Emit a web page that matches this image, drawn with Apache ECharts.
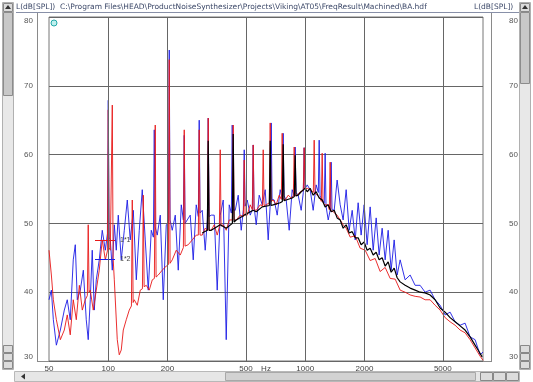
<!DOCTYPE html>
<html>
<head>
<meta charset="utf-8">
<title>L(dB[SPL])</title>
<script src="https://cdn.jsdelivr.net/npm/echarts@6/dist/echarts.min.js"></script>
<style>
  html, body { margin: 0; padding: 0; background: #fff; }
  #chart { width: 533px; height: 382px; }
</style>
</head>
<body>
<div id="chart"></div>
<script>
// header / axis texts
var headerLeft = 'L(dB[SPL])  C:\\Program Files\\HEAD\\ProductNoiseSynthesizer\\Projects\\Viking\\AT05\\FreqResult\\Machined\\BA.hdf';
var headerRight = 'L(dB[SPL])';
var freqTicks = [50, 100, 200, 500, 1000, 2000, 5000];
var freqGrid = [100, 200, 500, 1000, 2000, 5000];
var legendNames = ['1*1', '1*2'];

// blue trace (1*2)
var blueFreq = [50, 51.4, 52.6, 54.5, 57.1, 59.8, 61.9, 64.1, 66.4, 68.0,
  69.6, 72.1, 74.7, 77.3, 79.1, 81.0, 82.9, 84.9, 86.9, 90.0,
  93.2, 96.6, 99.0, 100, 101.0, 102.4, 104.8, 107.3, 109.8, 112.4,
  116.4, 120.6, 124.9, 129.3, 134.0, 138.8, 143.7, 148.8, 154.1, 159.6,
  165.3, 169.5, 171.2, 172.9, 177.3, 183.7, 190.2, 197.0, 202.0, 204.0,
  206.0, 211.3, 218.9, 226.7, 234.8, 240.7, 243.1, 245.5, 251.8, 260.8,
  270.1, 279.7, 286.7, 289.6, 292.5, 300.0, 310.7, 318.6, 321.8, 325.0,
  333.3, 345.2, 357.5, 370.3, 383.6, 397.2, 411.4, 421.8, 426.1, 430.4,
  441.3, 457.0, 473.4, 485.4, 490.3, 495.2, 507.8, 526.0, 539.1, 544.5,
  549.9, 564.0, 584.2, 605.0, 626.6, 649.0, 665.5, 672.2, 678.9, 696.1,
  721.0, 746.6, 765.6, 773.3, 781.0, 800.9, 829.6, 859.0, 880.7, 889.6,
  898.5, 921.5, 954.3, 978.4, 988.3, 998.2, 1024, 1060, 1098, 1137,
  1166, 1178, 1190, 1220, 1250, 1263, 1276, 1309, 1341, 1355,
  1369, 1404, 1453, 1506, 1559, 1615, 1673, 1733, 1795, 1858,
  1924, 1993, 2064, 2138, 2215, 2294, 2375, 2460, 2548, 2639,
  2733, 2831, 2932, 3036, 3218, 3412, 3617, 3835, 4065, 4310,
  4570, 4845, 5137, 5445, 5773, 6120, 6489, 6880, 7293, 7734, 8000];
var blueDb = [38.9, 40.3, 36.0, 32.3, 34.5, 37.4, 38.9, 36.0, 44.7, 46.9,
  38.9, 40.3, 43.2, 36.0, 33.1, 38.9, 46.1, 37.4, 41.8, 44.7,
  49.0, 46.1, 48.5, 67.9, 48.0, 47.6, 43.2, 49.8, 46.1, 51.2,
  44.7, 49.0, 53.4, 47.6, 51.9, 41.8, 49.0, 54.9, 47.6, 40.3,
  49.0, 48.0, 63.6, 49.5, 48.3, 51.2, 38.9, 49.8, 50.0, 75.2,
  50.5, 49.0, 51.2, 43.2, 52.7, 50.5, 62.8, 50.0, 50.5, 51.2,
  44.7, 52.7, 51.0, 65.0, 51.5, 51.9, 46.1, 50.5, 65.3, 51.0,
  51.2, 51.2, 40.3, 51.2, 53.4, 33.1, 52.7, 51.5, 64.3, 52.0,
  51.9, 54.1, 49.0, 52.0, 60.7, 52.5, 53.4, 51.2, 52.0, 61.4,
  52.5, 49.8, 54.1, 52.7, 54.9, 47.6, 53.0, 64.6, 53.5, 53.4,
  51.2, 54.9, 53.5, 63.1, 54.0, 53.4, 49.0, 54.9, 54.0, 61.1,
  54.5, 54.1, 51.9, 54.5, 61.0, 55.0, 55.6, 54.9, 51.9, 55.6,
  54.5, 62.1, 54.0, 53.4, 53.0, 60.2, 52.5, 50.5, 52.0, 58.9,
  52.0, 51.9, 56.3, 52.7, 50.5, 54.9, 49.0, 51.9, 47.6, 53.0,
  48.3, 52.7, 46.9, 52.4, 46.1, 50.8, 45.4, 49.3, 44.7, 49.0,
  43.2, 47.6, 42.5, 44.7, 41.8, 42.5, 41.0, 41.0, 40.0, 40.3,
  38.9, 38.1, 36.7, 37.1, 35.7, 35.2, 35.5, 33.5, 33.1, 30.9, 31.3];

// red trace (1*1)
var redFreq = [50, 51.4, 52.6, 54.5, 57.1, 59.8, 61.9, 64.1, 66.4, 68.8,
  71.3, 73.8, 76.4, 78.3, 79.1, 79.9, 81.0, 83.9, 86.9, 90.0,
  93.2, 96.6, 99.0, 100, 101.0, 102.4, 103.8, 104.8, 105.8, 107.3,
  111.1, 113.7, 116.4, 119.2, 123.4, 127.8, 131.1, 132.4, 133.7, 135.5,
  140.4, 145.4, 149.1, 150.6, 152.1, 155.9, 161.5, 167.3, 171.5, 173.2,
  174.9, 179.4, 188.0, 197.0, 202.0, 204.0, 206.0, 211.3, 221.4, 232.0,
  240.7, 243.1, 245.5, 254.7, 267.0, 279.7, 286.7, 289.6, 292.5, 300.0,
  310.7, 318.6, 321.8, 325.0, 333.3, 345.2, 357.5, 366.6, 370.3, 374.0,
  383.6, 397.2, 411.4, 426.8, 431.1, 435.4, 446.4, 468.0, 485.4, 490.3,
  495.2, 507.8, 526.0, 539.1, 544.5, 549.9, 564.0, 591.0, 606.1, 612.2,
  618.3, 634.0, 657.7, 664.3, 670.9, 688.0, 712.6, 738.0, 756.6, 764.2,
  771.8, 791.5, 819.9, 849.0, 870.6, 879.4, 888.2, 910.7, 943.1, 978.4,
  988.3, 998.2, 1024, 1060, 1100, 1111, 1122, 1150, 1191, 1208,
  1220, 1232, 1263, 1309, 1326, 1339, 1352, 1387, 1453, 1506,
  1559, 1615, 1693, 1795, 1902, 2017, 2138, 2267, 2403, 2548,
  2702, 2864, 3036, 3218, 3412, 3617, 3835, 4065, 4310, 4570,
  4845, 5137, 5445, 5773, 6120, 6489, 6880, 7293, 7734, 8000];
var redDb = [46.1, 42.5, 38.9, 36.0, 33.1, 34.5, 36.7, 33.8, 38.9, 36.0,
  41.0, 37.4, 38.9, 39.5, 49.8, 40.0, 40.3, 37.4, 40.3, 43.2,
  47.6, 44.7, 46.0, 66.5, 46.5, 46.1, 46.0, 67.2, 45.0, 41.8,
  33.1, 30.9, 31.6, 34.5, 36.0, 37.4, 38.0, 53.4, 38.5, 38.9,
  38.1, 40.3, 40.5, 54.1, 40.8, 41.0, 40.3, 41.8, 42.0, 64.3,
  42.2, 42.5, 43.2, 43.8, 44.0, 73.8, 44.2, 44.7, 46.1, 45.4,
  46.5, 63.6, 46.7, 46.9, 47.6, 48.3, 48.3, 63.6, 48.3, 48.3,
  49.3, 49.0, 65.3, 49.0, 49.0, 49.8, 48.3, 49.5, 60.7, 49.6,
  49.8, 49.0, 50.5, 50.5, 64.3, 50.5, 50.5, 51.2, 51.0, 59.2,
  51.2, 51.2, 52.7, 52.0, 61.4, 52.0, 51.9, 52.7, 52.5, 60.7,
  52.6, 52.7, 53.0, 64.6, 53.2, 53.4, 52.7, 54.1, 53.5, 63.1,
  53.6, 53.4, 54.1, 53.7, 54.0, 61.1, 54.0, 54.1, 54.6, 54.8,
  61.0, 55.0, 55.1, 54.9, 54.5, 62.1, 54.4, 54.1, 53.7, 53.2,
  60.2, 53.0, 52.7, 52.7, 52.0, 58.9, 51.8, 51.7, 51.2, 50.5,
  49.8, 49.3, 48.0, 48.2, 46.4, 46.1, 44.6, 44.9, 43.0, 43.6,
  42.0, 41.9, 40.3, 40.0, 39.6, 39.4, 39.3, 38.9, 38.9, 38.1,
  37.4, 36.3, 35.7, 35.2, 34.5, 34.1, 33.1, 31.9, 30.7, 30.1];

// black trace
var blackFreq = [300.0, 318.6, 321.8, 325.0, 333.3, 370.3, 397.2, 426.8, 431.1, 435.4,
  446.4, 490.3, 544.5, 564.0, 605.0, 657.7, 664.3, 670.9, 688.0, 746.6,
  765.6, 773.3, 781.0, 800.9, 859.0, 880.7, 889.6, 898.5, 921.5, 954.3,
  1000, 1024, 1060, 1098, 1137, 1178, 1220, 1263, 1309, 1355,
  1404, 1453, 1506, 1559, 1615, 1673, 1733, 1795, 1858, 1924,
  1993, 2064, 2138, 2215, 2294, 2375, 2460, 2548, 2639, 2733,
  2831, 2932, 3036, 3218, 3412, 3617, 3835, 4065, 4310, 4570,
  4845, 5137, 5445, 5773, 6120, 6489, 6880, 7293, 7555, 7917];
var blackDb = [48.6, 49.0, 62.0, 49.0, 49.0, 49.8, 49.3, 50.0, 63.0, 50.2,
  50.5, 51.2, 51.9, 51.7, 52.4, 52.6, 62.0, 52.6, 52.7, 53.0,
  53.2, 61.5, 53.3, 53.4, 53.7, 53.9, 59.9, 54.0, 54.1, 54.6,
  55.1, 54.6, 55.1, 54.1, 54.6, 53.7, 53.4, 52.4, 52.7, 51.7,
  51.9, 50.8, 50.5, 49.3, 49.8, 48.6, 48.8, 47.9, 47.9, 46.9,
  47.3, 46.1, 46.4, 45.4, 45.8, 44.7, 45.0, 43.8, 44.4, 42.9,
  43.5, 42.1, 41.5, 41.0, 40.6, 40.3, 40.0, 39.9, 39.6, 38.9,
  37.7, 37.1, 36.3, 35.7, 35.1, 34.5, 33.5, 32.3, 31.6, 30.6];

function pairs(f, d) {
  var out = [];
  for (var i = 0; i < f.length; i++) out.push([f[i], d[i]]);
  return out;
}

var chart = echarts.init(document.getElementById('chart'));

var chrome = [
  // left scrollbar
  { type: 'rect', shape: { x: 2.5, y: 2.5, width: 11, height: 367 }, style: { fill: '#e8e8e8', stroke: '#b0b0b0' } },
  { type: 'rect', shape: { x: 3.5, y: 12.5, width: 9, height: 83 }, style: { fill: '#c8c8c8', stroke: '#8c8c8c' } },
  { type: 'rect', shape: { x: 3.5, y: 3.5, width: 9, height: 8 }, style: { fill: '#dcdcdc', stroke: '#888' } },
  { type: 'polygon', shape: { points: [[5, 9], [11, 9], [8, 5]] }, style: { fill: '#333' } },
  { type: 'rect', shape: { x: 3.5, y: 345.5, width: 9, height: 7 }, style: { fill: '#dcdcdc', stroke: '#888' } },
  { type: 'rect', shape: { x: 3.5, y: 353.5, width: 9, height: 7 }, style: { fill: '#dcdcdc', stroke: '#888' } },
  { type: 'rect', shape: { x: 3.5, y: 361.5, width: 9, height: 7 }, style: { fill: '#dcdcdc', stroke: '#888' } },
  // right scrollbar
  { type: 'rect', shape: { x: 519.5, y: 2.5, width: 11, height: 367 }, style: { fill: '#e8e8e8', stroke: '#b0b0b0' } },
  { type: 'rect', shape: { x: 520.5, y: 12.5, width: 9, height: 71 }, style: { fill: '#c8c8c8', stroke: '#8c8c8c' } },
  { type: 'rect', shape: { x: 520.5, y: 3.5, width: 9, height: 8 }, style: { fill: '#dcdcdc', stroke: '#888' } },
  { type: 'polygon', shape: { points: [[522, 9], [528, 9], [525, 5]] }, style: { fill: '#333' } },
  { type: 'rect', shape: { x: 520.5, y: 345.5, width: 9, height: 7 }, style: { fill: '#dcdcdc', stroke: '#888' } },
  { type: 'rect', shape: { x: 520.5, y: 353.5, width: 9, height: 7 }, style: { fill: '#dcdcdc', stroke: '#888' } },
  { type: 'rect', shape: { x: 520.5, y: 361.5, width: 9, height: 7 }, style: { fill: '#dcdcdc', stroke: '#888' } },
  // bottom scrollbar
  { type: 'rect', shape: { x: 14.5, y: 371.5, width: 505, height: 10 }, style: { fill: '#e6e6e6', stroke: '#b8b8b8' } },
  { type: 'rect', shape: { x: 225.5, y: 372.5, width: 250, height: 8 }, style: { fill: '#d2d2d2', stroke: '#a8a8a8' } },
  { type: 'polygon', shape: { points: [[21, 376.5], [25, 373.5], [25, 379.5]] }, style: { fill: '#333' } },
  { type: 'rect', shape: { x: 480.5, y: 372.5, width: 12, height: 8 }, style: { fill: '#dcdcdc', stroke: '#888' } },
  { type: 'rect', shape: { x: 493.5, y: 372.5, width: 12, height: 8 }, style: { fill: '#dcdcdc', stroke: '#888' } },
  { type: 'rect', shape: { x: 506.5, y: 372.5, width: 12, height: 8 }, style: { fill: '#dcdcdc', stroke: '#888' } },
  // header
  { type: 'text', left: 16, top: 3, style: { text: headerLeft, fontSize: 7.5, fontFamily: 'DejaVu Sans', fill: '#3c4868' } },
  { type: 'text', left: 474, top: 3, style: { text: headerRight, fontSize: 7.5, fontFamily: 'DejaVu Sans', fill: '#3c4868' } },
  { type: 'line', shape: { x1: 16, y1: 12.5, x2: 519, y2: 12.5 }, style: { stroke: '#8890a8', lineWidth: 1 } },
  // outer frame lines
  { type: 'line', shape: { x1: 37.5, y1: 13, x2: 37.5, y2: 361 }, style: { stroke: '#8a8a8a', lineWidth: 1 } },
  { type: 'line', shape: { x1: 491.5, y1: 13, x2: 491.5, y2: 361 }, style: { stroke: '#8a8a8a', lineWidth: 1 } },
  { type: 'line', shape: { x1: 37, y1: 361.5, x2: 492, y2: 361.5 }, style: { stroke: '#8a8a8a', lineWidth: 1 } },
  // small marker icon
  { type: 'circle', shape: { cx: 54, cy: 23, r: 3 }, style: { fill: '#bff0ee', stroke: '#22a8a8', lineWidth: 1 } }
];

var option = {
  animation: false,
  backgroundColor: '#ffffff',
  graphic: chrome,
  legend: {
    data: legendNames,
    orient: 'vertical',
    left: 95,
    top: 237,
    padding: 0,
    itemWidth: 20,
    itemHeight: 1,
    itemGap: 12,
    icon: 'rect',
    textStyle: { fontSize: 7, color: '#444', fontFamily: 'Liberation Sans' }
  },
  grid: {
    left: 49, right: 50, top: 17, bottom: 21,
    containLabel: false,
    outerBoundsMode: 'none',
    show: true,
    borderColor: '#777',
    borderWidth: 1,
    backgroundColor: '#fff'
  },
  xAxis: {
    type: 'log',
    logBase: 10,
    min: 50,
    max: 8000,
    name: 'Hz',
    nameLocation: 'middle',
    nameGap: 4,
    nameMoveOverlap: false,
    nameTextStyle: { fontSize: 8, color: '#444', fontFamily: 'Liberation Sans', verticalAlign: 'top' },
    axisLine: { show: false },
    axisTick: { show: false },
    splitLine: { show: false },
    minorTick: { show: false },
    axisLabel: {
      customValues: freqTicks,
      formatter: function (v) { return String(Math.round(v)); },
      fontSize: 8,
      margin: 4,
      color: '#444',
      fontFamily: 'Liberation Sans'
    }
  },
  yAxis: [{
    type: 'value',
    min: 30, max: 80, interval: 10,
    position: 'left',
    axisLine: { show: false },
    axisTick: { show: false },
    splitLine: { show: true, lineStyle: { color: '#666', width: 1 } },
    axisLabel: {
      fontSize: 8, margin: 16, color: '#555', fontFamily: 'Liberation Sans',
      verticalAlignMinLabel: 'bottom', verticalAlignMaxLabel: 'top'
    }
  }, {
    type: 'value',
    min: 30, max: 80, interval: 10,
    position: 'right',
    axisLine: { show: false },
    axisTick: { show: false },
    splitLine: { show: false },
    axisLabel: {
      fontSize: 8, margin: 26, color: '#555', fontFamily: 'Liberation Sans',
      verticalAlignMinLabel: 'bottom', verticalAlignMaxLabel: 'top'
    }
  }],
  series: [{
    name: 'grid',
    type: 'line',
    data: [],
    z: 1,
    markLine: {
      silent: true,
      symbol: 'none',
      label: { show: false },
      lineStyle: { color: '#666', width: 1, type: 'solid' },
      data: freqGrid.map(function (v) { return { xAxis: v }; })
    }
  }, {
    name: '1*2',
    type: 'line',
    data: pairs(blueFreq, blueDb),
    showSymbol: false,
    symbol: 'none',
    z: 2,
    itemStyle: { color: '#1c1ce6' },
    lineStyle: { color: '#1c1ce6', width: 1, opacity: 0.9 }
  }, {
    name: '1*1',
    type: 'line',
    data: pairs(redFreq, redDb),
    showSymbol: false,
    symbol: 'none',
    z: 3,
    itemStyle: { color: '#e81818' },
    lineStyle: { color: '#e81818', width: 1, opacity: 0.9 }
  }, {
    name: 'sum',
    type: 'line',
    data: pairs(blackFreq, blackDb),
    showSymbol: false,
    symbol: 'none',
    z: 4,
    itemStyle: { color: '#000' },
    lineStyle: { color: '#000', width: 1.2 }
  }]
};

chart.setOption(option);
</script>
</body>
</html>
